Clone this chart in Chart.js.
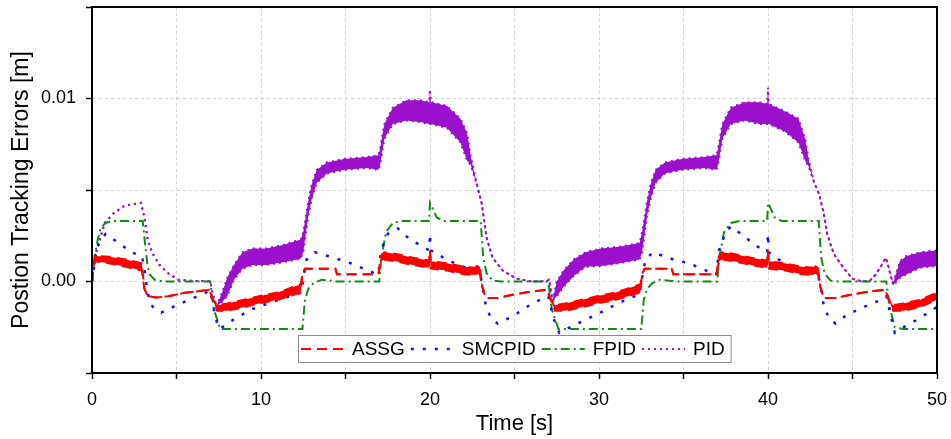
<!DOCTYPE html>
<html>
<head>
<meta charset="utf-8">
<title>Position Tracking Errors</title>
<script src="https://cdn.jsdelivr.net/npm/chart.js@4.4.1/dist/chart.umd.min.js"></script>
<style>
  html, body { margin: 0; padding: 0; background: #fff; }
  #wrap { width: 951px; height: 439px; }
</style>
</head>
<body>
<div id="wrap"><canvas id="errChart" width="951" height="439"></canvas></div>
<script>
// Data (time in s, error in m)
// ASSG: dashed line, thick where it oscillates -> upper / lower envelope
const assgT  = [0, 0.15, 1, 2, 2.95, 3.1, 3.3, 3.8, 4.5, 5.5, 6.5, 6.95, 7.1, 7.4, 8, 9, 10, 11, 12.35, 12.45, 12.6, 14.4, 14.5, 16.95, 17.1, 17.3, 18, 19, 19.95, 20, 20.05, 21, 22, 22.7, 22.8, 22.95, 23.1, 23.3, 24, 25, 26, 26.95, 27.1, 27.4, 28, 29, 30, 31, 32.45, 32.55, 32.7, 34.3, 34.4, 36.95, 37.1, 37.3, 38, 39, 39.95, 40, 40.05, 41, 42, 42.7, 42.8, 42.95, 43.1, 43.3, 44, 45, 46, 46.95, 47.1, 47.4, 48, 49, 50];
const assgHi = [0, 0.0014, 0.00135, 0.0012, 0.001, -0.0004, -0.0008, -0.00088, -0.0008, -0.00062, -0.0005, -0.00045, -0.0009, -0.0013, -0.0012, -0.001, -0.00078, -0.0006, -0.00015, 0.0004, 0.0007, 0.0007, 0.0004, 0.0004, 0.0014, 0.0016, 0.0015, 0.0013, 0.00115, 0.0017, 0.0011, 0.001, 0.0008, 0.00075, 0.0009, 0.0008, -0.0003, -0.0009, -0.0009, -0.0007, -0.00055, -0.00045, -0.0009, -0.0013, -0.0012, -0.001, -0.00078, -0.0006, -0.00015, 0.0004, 0.0007, 0.0007, 0.0004, 0.0004, 0.0014, 0.0016, 0.0015, 0.0013, 0.00115, 0.0017, 0.0011, 0.001, 0.0008, 0.00075, 0.0009, 0.0008, -0.0003, -0.0009, -0.0009, -0.0007, -0.00055, -0.00045, -0.0009, -0.0013, -0.0012, -0.001, -0.0006];
const assgLo = [0, 0.0011, 0.001, 0.0008, 0.0006, -0.0004, -0.0008, -0.00088, -0.0008, -0.00062, -0.0005, -0.00045, -0.0009, -0.0016, -0.0016, -0.0014, -0.00118, -0.001, -0.0006, 0.0004, 0.0007, 0.0007, 0.0004, 0.0004, 0.0011, 0.0012, 0.0011, 0.0009, 0.00075, 0.0017, 0.0007, 0.0006, 0.0004, 0.00035, 0.0005, 0.0004, -0.0003, -0.0009, -0.0009, -0.0007, -0.00055, -0.00045, -0.0009, -0.0016, -0.0016, -0.0014, -0.00118, -0.001, -0.0006, 0.0004, 0.0007, 0.0007, 0.0004, 0.0004, 0.0011, 0.0012, 0.0011, 0.0009, 0.00075, 0.0017, 0.0007, 0.0006, 0.0004, 0.00035, 0.0005, 0.0004, -0.0003, -0.0009, -0.0009, -0.0007, -0.00055, -0.00045, -0.0009, -0.0016, -0.0016, -0.0014, -0.001];

// SMCPID: dotted line
const smcT = [0, 0.3, 0.8, 1.6, 2.3, 2.95, 3.1, 3.27, 3.45, 3.7, 4.1, 5, 6, 7, 7.15, 7.3, 7.55, 8.5, 9.5, 10.7, 12.4, 12.5, 12.7, 13.2, 14.3, 15.3, 16.6, 16.95, 17.1, 17.5, 18.1, 18.8, 19.6, 19.95, 20, 20.05, 20.4, 21.2, 22, 22.5, 22.95, 23.1, 23.3, 23.6, 24, 24.9, 25.7, 26.5, 27, 27.15, 27.3, 27.65, 28.5, 29.4, 30.3, 31.1, 32.4, 32.55, 32.75, 33.2, 34.4, 35.3, 36.6, 36.95, 37.1, 37.5, 37.8, 38.4, 39.1, 39.7, 39.95, 40, 40.05, 40.3, 40.8, 41.4, 42.4, 42.95, 43.1, 43.3, 43.6, 44, 44.7, 45.9, 46.7, 47, 47.15, 47.3, 47.5, 48.2, 49, 49.8, 50];
const smcY = [0, 0.0019, 0.0026, 0.0021, 0.0016, 0.0014, 0.0007, -0.0005, -0.0012, -0.0015, -0.0017, -0.0013, -0.0009, -0.0005, -0.0012, -0.002, -0.0026, -0.002, -0.0015, -0.0011, -0.0006, 0.0002, 0.0012, 0.0016, 0.0013, 0.001, 0.0005, 0.0004, 0.0017, 0.0026, 0.0029, 0.0023, 0.0019, 0.0017, 0.0026, 0.0017, 0.0015, 0.0011, 0.0008, 0.0006, 0.0005, -0.0003, -0.0013, -0.002, -0.0023, -0.0019, -0.0014, -0.001, -0.0008, -0.0014, -0.002, -0.0028, -0.0024, -0.002, -0.0016, -0.0012, -0.0007, 0.0002, 0.0012, 0.0016, 0.0012, 0.001, 0.0005, 0.0004, 0.0017, 0.0027, 0.003, 0.0026, 0.0021, 0.0017, 0.0016, 0.0026, 0.0016, 0.0014, 0.0011, 0.0008, 0.0006, 0.0005, -0.0003, -0.0013, -0.002, -0.0023, -0.0018, -0.0013, -0.001, -0.0008, -0.0014, -0.002, -0.0028, -0.0024, -0.002, -0.0015, -0.0014];

// FPID: dash-dot line
const fpidT = [0, 0.25, 0.5, 0.8, 1.2, 3.0, 3.16, 3.27, 3.4, 3.7, 4.2, 7.0, 7.2, 7.6, 12.45, 12.6, 12.8, 13.1, 13.6, 14.5, 17.0, 17.1, 17.4, 17.8, 18.3, 19.95, 20.0, 20.4, 20.8, 23.0, 23.05, 23.15, 23.35, 23.7, 24.2, 27.0, 27.2, 27.6, 32.5, 32.65, 32.85, 33.15, 33.6, 34.5, 37.0, 37.1, 37.4, 37.8, 38.3, 39.95, 40.0, 40.4, 40.8, 43.0, 43.05, 43.15, 43.35, 43.7, 44.2, 47.0, 47.2, 47.5, 48.0, 50];
const fpidY = [0, 0.0019, 0.0029, 0.0032, 0.0033, 0.0033, 0.0019, 0.001, 0.0004, 0.0001, 0, 0, -0.0015, -0.0026, -0.0026, -0.001, -0.0004, -0.0001, 0.0001, 0, 0, 0.0012, 0.0027, 0.0032, 0.0033, 0.0033, 0.0043, 0.0035, 0.0033, 0.0033, 0.0026, 0.0013, 0.00044, 0.00005, 0, 0, -0.0015, -0.0026, -0.0026, -0.001, -0.0004, -0.0001, 0.0001, 0, 0, 0.0012, 0.0027, 0.0032, 0.0033, 0.0033, 0.0043, 0.0035, 0.0033, 0.0033, 0.0026, 0.0013, 0.00044, 0.00005, 0, 0, -0.0014, -0.0025, -0.0026, -0.0026];

// PID: dotted line, wide oscillation band -> upper / lower envelope
const pidT  = [0, 0.25, 0.75, 1.25, 1.85, 2.3, 2.9, 3.1, 3.3, 3.6, 4.0, 4.5, 5.1, 6.0, 7.0, 7.1, 7.35, 7.7, 8.0, 8.4, 8.9, 9.5, 10.3, 11.3, 12.35, 12.5, 12.8, 13.0, 13.3, 13.9, 14.9, 16.25, 16.95, 17.05, 17.3, 17.8, 18.6, 19.5, 19.95, 20.0, 20.05, 21.0, 21.8, 22.2, 22.4, 22.8, 23.05, 23.35, 23.7, 24.3, 25.1, 25.9, 26.9, 27.05, 27.25, 27.5, 27.9, 28.5, 29.2, 30.1, 31.2, 32.4, 32.55, 32.85, 33.05, 33.35, 33.9, 34.9, 36.25, 36.95, 37.05, 37.3, 37.8, 38.6, 39.5, 39.95, 40.0, 40.05, 41.0, 41.8, 42.2, 42.4, 42.7, 43.05, 43.3, 43.5, 43.9, 44.5, 45.0, 45.5, 46.0, 46.4, 46.98, 47.4, 47.8, 48.2, 49.0, 50];
const pidHi = [0, 0.0016, 0.0032, 0.0037, 0.0041, 0.0042, 0.0043, 0.0035, 0.00225, 0.0015, 0.0009, 0.00045, 0.0001, 0.00003, 0.00002, -0.0005, -0.0014, -0.0006, 0.0002, 0.0009, 0.0016, 0.0018, 0.0018, 0.002, 0.0023, 0.0027, 0.0044, 0.0053, 0.0061, 0.0065, 0.0067, 0.0068, 0.0069, 0.0073, 0.0086, 0.0095, 0.0099, 0.0099, 0.0098, 0.0105, 0.0098, 0.0096, 0.0089, 0.0081, 0.0069, 0.0052, 0.0043, 0.0024, 0.0013, 0.0006, 0.00016, 0.00002, 0.00002, 0.0001, -0.00105, 0.0000, 0.0006, 0.0012, 0.0016, 0.0018, 0.0019, 0.0021, 0.0027, 0.0044, 0.0053, 0.0061, 0.0065, 0.0067, 0.0068, 0.0069, 0.0073, 0.0086, 0.0095, 0.0098, 0.0098, 0.0097, 0.0106, 0.0097, 0.0093, 0.0089, 0.0078, 0.0067, 0.0055, 0.0047, 0.0037, 0.0026, 0.0015, 0.0007, 0.00015, 0.00002, 0.00002, 0.0004, 0.0013, -0.0001, 0.0011, 0.0014, 0.0016, 0.0017];
const pidLo = [0, 0.0016, 0.0032, 0.0037, 0.0041, 0.0042, 0.0043, 0.0035, 0.00225, 0.0015, 0.0009, 0.00045, 0.0001, 0.00003, 0.00002, -0.0005, -0.0014, -0.0011, -0.0008, 0.0001, 0.0007, 0.0009, 0.0009, 0.00105, 0.00125, 0.0016, 0.0036, 0.0045, 0.0054, 0.0059, 0.0061, 0.0062, 0.0061, 0.0064, 0.0078, 0.0086, 0.0088, 0.0087, 0.0086, 0.0086, 0.0086, 0.0084, 0.0076, 0.0066, 0.0064, 0.0052, 0.0043, 0.0024, 0.0013, 0.0006, 0.00016, 0.00002, 0.00002, 0.0001, -0.00105, -0.0008, -0.0003, 0.0003, 0.0008, 0.00085, 0.001, 0.0012, 0.0016, 0.0036, 0.0045, 0.0054, 0.0059, 0.0061, 0.0062, 0.0061, 0.0064, 0.0078, 0.0086, 0.0088, 0.0086, 0.0086, 0.0086, 0.0086, 0.0082, 0.0076, 0.0066, 0.0063, 0.0055, 0.0047, 0.0037, 0.0026, 0.0015, 0.0007, 0.00015, 0.00002, 0.00002, 0.0004, 0.0013, -0.0002, 0.0002, 0.0004, 0.00075, 0.00085];

// axis ticks
const xLabelTicks = [0, 10, 20, 30, 40, 50];
const yLabelTicks = [0, 0.01];

const FONT = '"Liberation Sans", Arial, sans-serif';

function pts(t, y) {
  const n = Math.min(t.length, y.length);
  const out = [];
  for (let i = 0; i < n; i++) out.push({ x: t[i], y: y[i] });
  return out;
}

// frame on all four sides of the plot
const frameBox = {
  id: 'frameBox',
  afterDraw(chart) {
    const { ctx, chartArea: a } = chart;
    ctx.save();
    ctx.strokeStyle = '#000';
    ctx.lineWidth = 2;
    ctx.strokeRect(a.left, a.top, a.right - a.left, a.bottom - a.top);
    ctx.restore();
  }
};

// boxed legend inside the plot, bottom centre
const insideLegend = {
  id: 'insideLegend',
  afterDraw(chart) {
    const { ctx, chartArea } = chart;
    const sets = chart.data.datasets.filter(d => d.label);
    ctx.save();
    ctx.font = '19px ' + FONT;
    const sample = 43, gapA = 8, gapB = 6, padL = 3, padR = 6, h = 27;
    let w = padL + padR;
    sets.forEach((d, i) => { w += sample + gapA + ctx.measureText(d.label).width + (i ? gapB : 0); });
    const x0 = Math.round((chartArea.left + chartArea.right) / 2 - w / 2);
    const y0 = chartArea.bottom - 11 - h;
    ctx.fillStyle = '#fff';
    ctx.fillRect(x0, y0, w, h);
    ctx.strokeStyle = '#8c8c8c';
    ctx.lineWidth = 1;
    ctx.strokeRect(x0 + 0.5, y0 + 0.5, w, h);
    let x = x0 + padL;
    const cy = y0 + h / 2 + 0.5;
    sets.forEach((d, i) => {
      if (i) x += gapB;
      ctx.setLineDash(d.borderDash || []);
      ctx.lineCap = 'butt';
      ctx.strokeStyle = d.borderColor;
      ctx.lineWidth = d.borderWidth;
      ctx.beginPath();
      ctx.moveTo(x, cy);
      ctx.lineTo(x + sample, cy);
      ctx.stroke();
      x += sample + gapA;
      ctx.setLineDash([]);
      ctx.fillStyle = '#000';
      ctx.textBaseline = 'middle';
      ctx.fillText(d.label, x, cy + 1);
      x += ctx.measureText(d.label).width;
    });
    ctx.restore();
  }
};

const RED = '#ff0000', BLUE = '#1010ff', GREEN = '#138a13', PURPLE = '#9a10cc';

new Chart(document.getElementById('errChart'), {
  type: 'line',
  data: {
    datasets: [
      { label: 'ASSG', data: pts(assgT, assgHi), borderColor: RED, borderWidth: 2, borderDash: [10, 6] },
      { data: pts(assgT, assgLo), borderColor: RED, borderWidth: 2, borderDash: [10, 6], backgroundColor: RED, fill: '-1' },
      { label: 'SMCPID', data: pts(smcT, smcY), borderColor: BLUE, borderWidth: 2.5, borderDash: [3, 9] },
      { label: 'FPID', data: pts(fpidT, fpidY), borderColor: GREEN, borderWidth: 2, borderDash: [9, 4, 2, 4] },
      { label: 'PID', data: pts(pidT, pidHi), borderColor: PURPLE, borderWidth: 2, borderDash: [2, 4] },
      { data: pts(pidT, pidLo), borderColor: PURPLE, borderWidth: 2, borderDash: [2, 4], backgroundColor: PURPLE, fill: '-1' }
    ]
  },
  options: {
    responsive: false,
    animation: false,
    events: [],
    layout: { padding: { top: 7, right: 14, left: 0, bottom: 0 } },
    elements: { point: { radius: 0 }, line: { tension: 0, fill: false } },
    plugins: {
      legend: { display: false },
      tooltip: { enabled: false }
    },
    scales: {
      x: {
        type: 'linear',
        min: 0,
        max: 50,
        afterFit(scale) {
          scale.height = 66;
          scale.paddingLeft = 0;
          scale.paddingRight = 0;
        },
        ticks: {
          stepSize: 5,
          color: '#000',
          padding: 10,
          maxRotation: 0,
          font: { size: 18, family: FONT },
          callback: v => (xLabelTicks.includes(v) ? String(v) : '')
        },
        grid: { color: '#d2d2d2', lineWidth: 1, tickColor: '#000', tickLength: 6, tickWidth: 1.5, tickBorderDash: [] },
        border: { color: '#000', width: 2, dash: [3, 3] },
        title: { display: true, text: 'Time [s]', color: '#000', font: { size: 22, family: FONT }, padding: { top: 0, bottom: 2 } }
      },
      y: {
        min: -0.005,
        max: 0.015,
        afterFit(scale) {
          scale.width = 92;
          scale.paddingTop = 0;
          scale.paddingBottom = 0;
        },
        ticks: {
          stepSize: 0.005,
          color: '#000',
          padding: 10,
          font: { size: 18, family: FONT },
          callback: v => {
            const hit = yLabelTicks.find(t => Math.abs(t - v) < 1e-9);
            return hit === undefined ? '' : hit.toFixed(2);
          }
        },
        grid: { color: '#d2d2d2', lineWidth: 1, tickColor: '#000', tickLength: 6, tickWidth: 1.5, tickBorderDash: [] },
        border: { color: '#000', width: 2, dash: [3, 3] },
        title: { display: true, text: 'Postion Tracking Errors [m]', color: '#000', font: { size: 23, family: FONT }, padding: { top: 8, bottom: 0 } }
      }
    }
  },
  plugins: [frameBox, insideLegend]
});
</script>
</body>
</html>
